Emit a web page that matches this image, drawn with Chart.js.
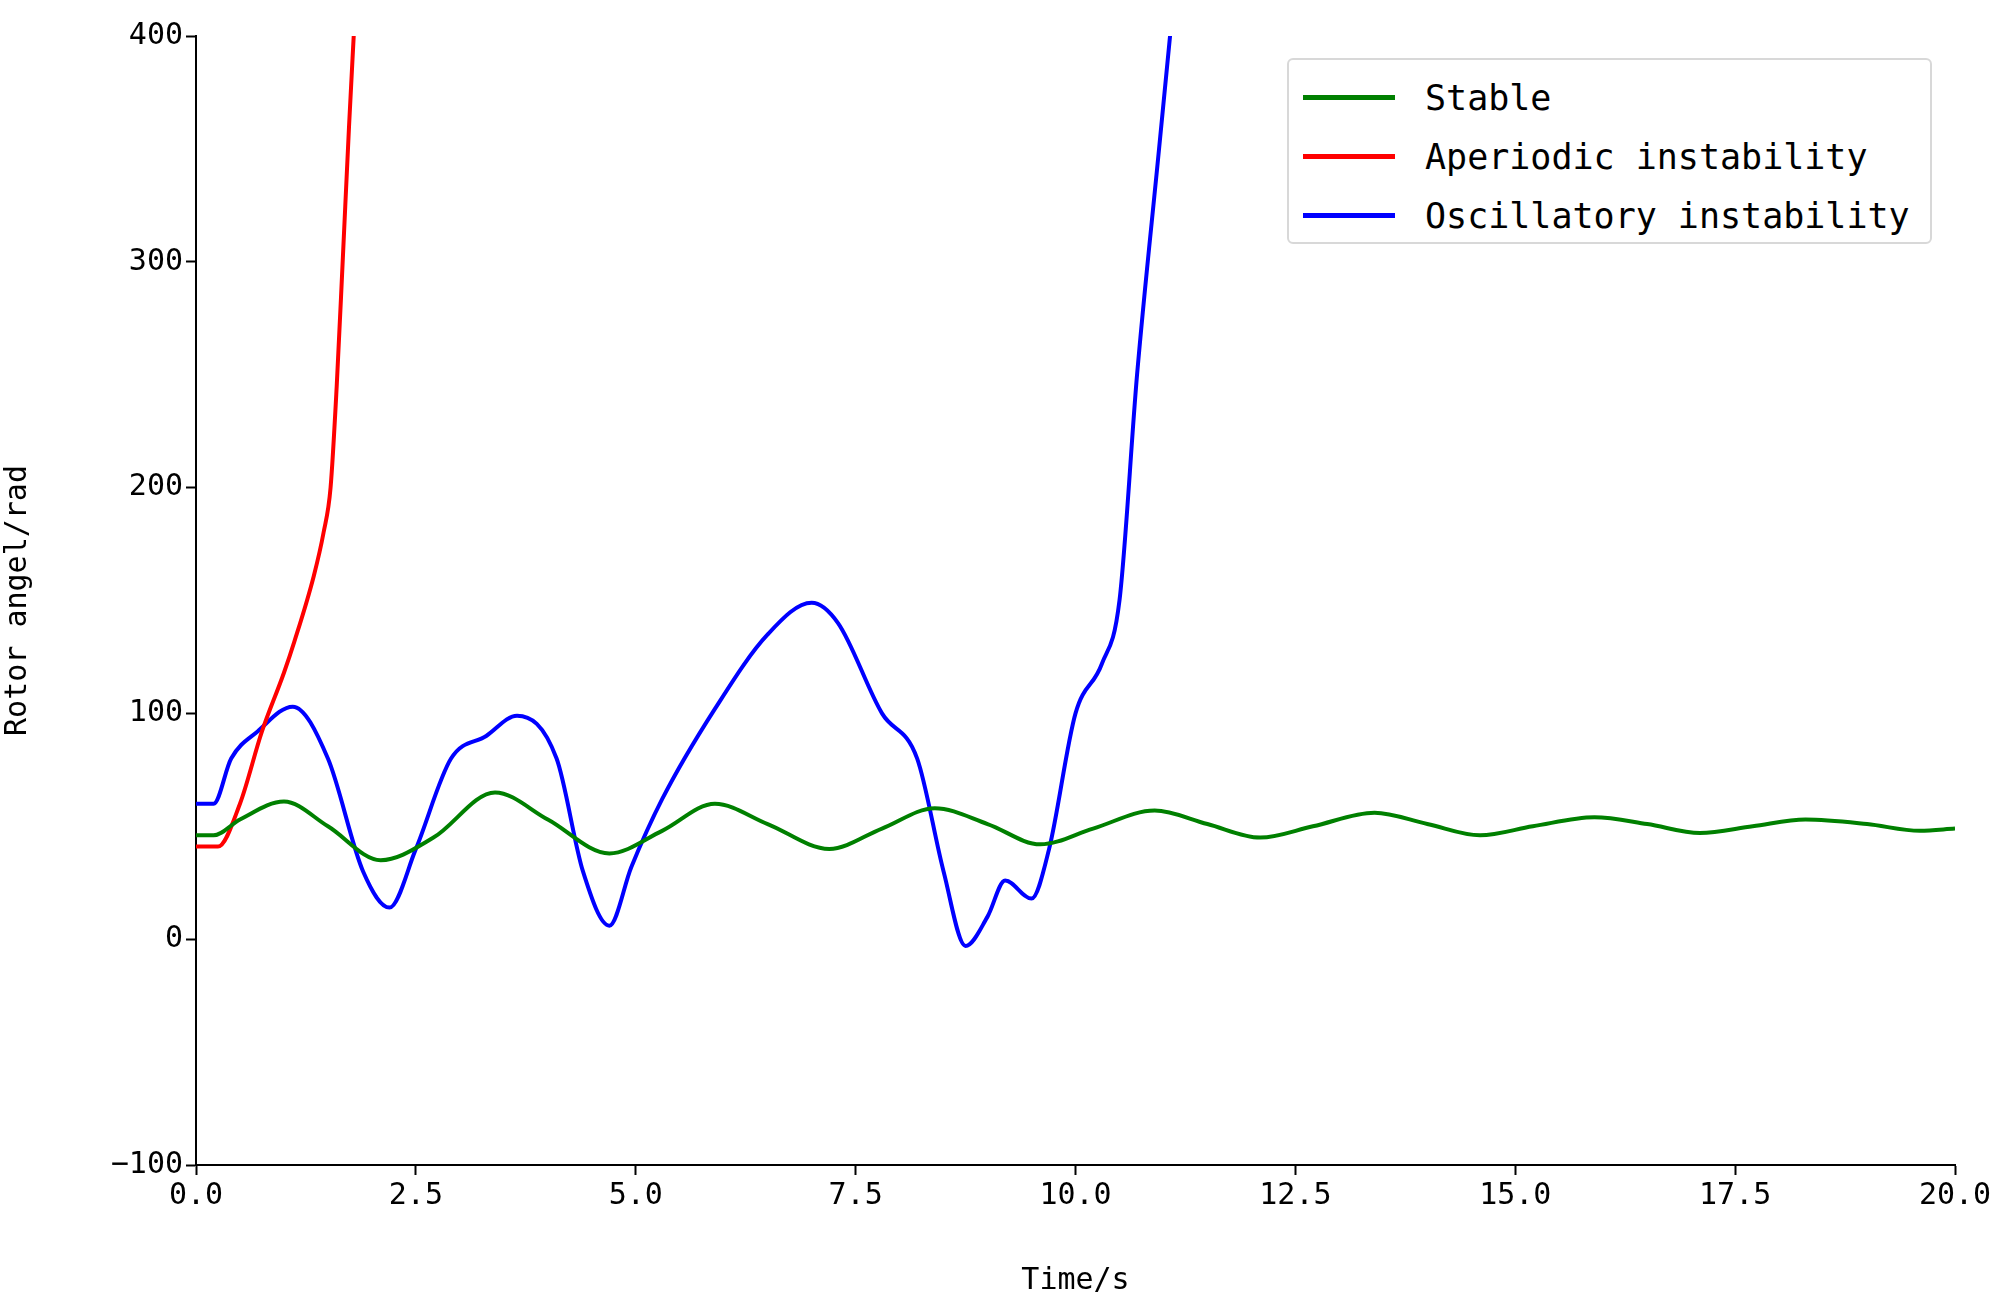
<!DOCTYPE html>
<html>
<head>
<meta charset="utf-8">
<script src="https://cdn.jsdelivr.net/npm/chart.js@4/dist/chart.umd.min.js"></script>
<style>
  body { margin: 0; background: #fff; }
  #wrap { position: relative; width: 2008px; height: 1299px; }
  #legend {
    position: absolute; left: 1287px; top: 58px; width: 645px; height: 186px;
    border: 2px solid #d8d8d8; border-radius: 6px; background: #fff;
    font-family: "DejaVu Sans Mono", monospace; font-size: 35px; color: #000;
    box-sizing: border-box; padding-top: 8px;
  }
  .row { display: flex; align-items: center; height: 59px; }
  .sw { width: 92px; height: 5px; margin-left: 14px; margin-right: 30px; }
</style>
</head>
<body>
<div id="wrap">
  <canvas id="c" width="2008" height="1299"></canvas>
  <div id="legend">
    <div class="row"><span class="sw" style="background:green"></span>Stable</div>
    <div class="row"><span class="sw" style="background:red"></span>Aperiodic instability</div>
    <div class="row"><span class="sw" style="background:blue"></span>Oscillatory instability</div>
  </div>
</div>
<script>
// 안정 곡선
const stableT = [0, 0.2, 0.5, 1.0, 1.5, 2.1, 2.7, 3.4, 4.0, 4.7, 5.3, 5.9, 6.5, 7.2, 7.8, 8.4, 9.0, 9.6, 10.2, 10.9, 11.5, 12.1, 12.7, 13.4, 14.0, 14.6, 15.2, 15.9, 16.5, 17.1, 17.7, 18.3, 19.0, 19.6, 20.0];
const stableV = [46, 46, 53, 61, 50, 35, 45, 65, 53, 38, 48, 60, 51, 40, 49, 58, 51, 42, 49, 57, 51, 45, 50, 56, 51, 46, 50, 54, 51, 47, 50, 53, 51, 48, 49];

// 비주기 불안정
const aperT = [0, 0.25, 0.5, 0.75, 1.0, 1.12, 1.34, 1.45, 1.53, 1.6, 1.67, 1.74, 1.8];
const aperV = [41, 41, 60, 92, 118, 132, 161, 180, 200, 245, 302, 360, 405];

// 진동 불안정
const oscT = [0, 0.2, 0.4, 0.7, 1.1, 1.5, 1.9, 2.2, 2.5, 2.9, 3.3, 3.65, 4.1, 4.4, 4.7, 4.95, 5.3, 5.9, 6.5, 7.0, 7.3, 7.8, 8.2, 8.5, 8.75, 9.0, 9.2, 9.5, 9.7, 10.0, 10.3, 10.5, 10.7, 10.95, 11.1];
const oscV = [60, 60, 80, 92, 103, 80, 30, 14, 40, 80, 90, 99, 80, 30, 6, 32, 62, 102, 135, 149, 140, 100, 80, 30, -3, 10, 26, 18, 40, 100, 122, 150, 250, 350, 410];

const xTicks = [0, 2.5, 5, 7.5, 10, 12.5, 15, 17.5, 20];
const yTicks = [-100, 0, 100, 200, 300, 400];

const pts = (t, v) => t.map((x, i) => ({ x: x, y: v[i] }));
const font = { family: "DejaVu Sans Mono", size: 30 };

new Chart(document.getElementById("c").getContext("2d"), {
  type: "line",
  data: {
    datasets: [
      { label: "Stable", data: pts(stableT, stableV), borderColor: "green" },
      { label: "Aperiodic instability", data: pts(aperT, aperV), borderColor: "red" },
      { label: "Oscillatory instability", data: pts(oscT, oscV), borderColor: "blue" },
    ],
  },
  options: {
    responsive: false,
    animation: false,
    elements: {
      point: { radius: 0 },
      line: { borderWidth: 4, cubicInterpolationMode: "monotone" },
    },
    layout: { padding: { left: 0, right: 53, top: 36, bottom: 0 } },
    plugins: { legend: { display: false }, tooltip: { enabled: false } },
    scales: {
      x: {
        type: "linear", min: 0, max: 20,
        afterBuildTicks: s => { s.ticks = xTicks.map(v => ({ value: v })); },
        afterFit: s => { s.height = 134; },
        ticks: { color: "#000", font: font, callback: v => v.toFixed(1), maxRotation: 0 },
        grid: { drawOnChartArea: false, tickLength: 10, color: "#000", tickWidth: 2 },
        border: { color: "#000", width: 2 },
        title: { display: true, text: "Time/s", color: "#000", font: font, padding: 0 },
      },
      y: {
        min: -100, max: 400,
        afterBuildTicks: s => { s.ticks = yTicks.map(v => ({ value: v })); },
        afterFit: s => { s.width = 196; },
        ticks: { color: "#000", font: font, callback: v => (v < 0 ? "\u2212" + Math.abs(v) : v) },
        grid: { drawOnChartArea: false, tickLength: 10, color: "#000", tickWidth: 2 },
        border: { color: "#000", width: 2 },
        title: { display: true, text: "Rotor angel/rad", color: "#000", font: font, padding: 0 },
      },
    },
  },
});
</script>
</body>
</html>
